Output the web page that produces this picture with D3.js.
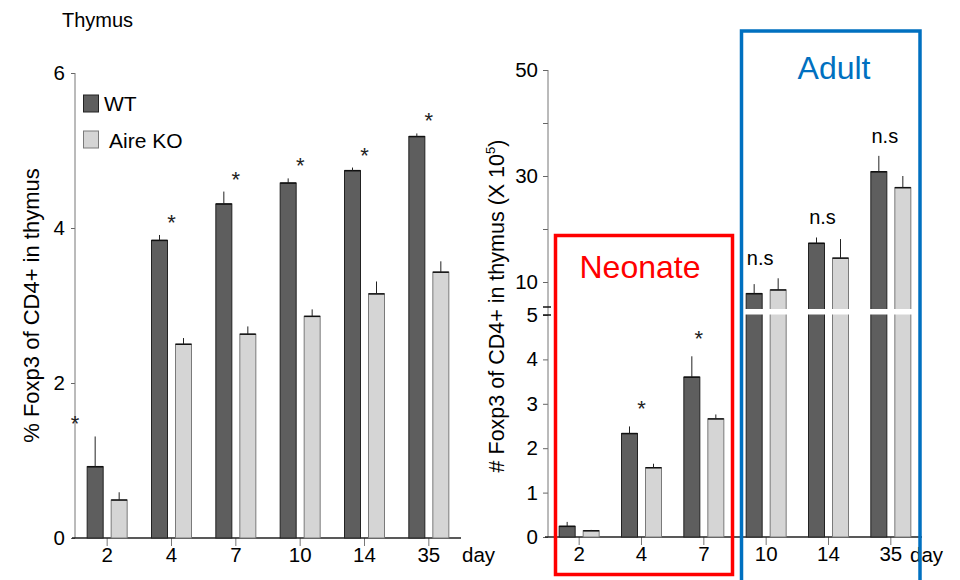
<!DOCTYPE html>
<html>
<head>
<meta charset="utf-8">
<script src="https://cdn.jsdelivr.net/npm/d3@7"></script>
<style>
  body { margin: 0; background: #fff; }
  svg { display: block; font-family: "Liberation Sans", Arial, sans-serif; }
</style>
</head>
<body>
<svg id="chart" width="960" height="580"></svg>
<script>
// Days of sampling (shared by both panels)
const days = ["2", "4", "7", "10", "14", "35"];
const series = ["WT", "Aire KO"];

// Left panel: % Foxp3 of CD4+ in thymus
const pctWT = [0.92, 3.84, 4.31, 4.58, 4.74, 5.18];
const pctWTerr = [0.39, 0.07, 0.16, 0.06, 0.04, 0.04];
const pctKO = [0.49, 2.50, 2.63, 2.86, 3.15, 3.43];
const pctKOerr = [0.10, 0.08, 0.10, 0.09, 0.16, 0.14];
const pctStars = ["*", "*", "*", "*", "*", "*"];
const pctTicks = [0, 2, 4, 6];

// Right panel: # Foxp3 of CD4+ in thymus (x 10^5), broken axis at 5
const numWT = [0.24, 2.33, 3.60, 7.8, 17.3, 30.8];
const numWTerr = [0.10, 0.16, 0.47, 1.8, 1.1, 3.0];
const numKO = [0.14, 1.56, 2.66, 8.5, 14.5, 27.8];
const numKOerr = [0.02, 0.09, 0.10, 2.2, 3.6, 2.2];
const numMarks = ["", "*", "*", "n.s", "n.s", "n.s"];
const numLowTicks = [0, 1, 2, 3, 4, 5];
const numHighTicks = [10, 20, 30, 40, 50];
const numHighLabels = [10, 30, 50];

const colWT = "#5e5e5e", colKO = "#d5d5d5";
const tickFont = 20.5;
const svg = d3.select("#chart");

// ---------- Left panel ----------
const L = { x0: 75, x1: 461, y0: 538, y1: 73 };
const xL = d3.scaleBand().domain(days).range([L.x0, L.x1]);
const yL = d3.scaleLinear().domain([0, 6]).range([L.y0, L.y1]);

svg.append("text").attr("x", 62).attr("y", 27).attr("font-size", 20).text("Thymus");

// y axis
const gyL = svg.append("g").attr("transform", `translate(${L.x0},0)`)
  .call(d3.axisLeft(yL).tickValues(pctTicks).tickSize(4).tickPadding(6).tickFormat(d3.format("d")));
gyL.select(".domain").remove();
gyL.selectAll(".tick line").attr("stroke", "#666");
gyL.selectAll("text").attr("font-size", tickFont).attr("fill", "#000").attr("font-family", "Liberation Sans, Arial");
svg.append("line").attr("x1", L.x0).attr("x2", L.x0).attr("y1", L.y1).attr("y2", L.y0).attr("stroke", "#777");

// x axis
const gxL = svg.append("g").attr("transform", `translate(0,${L.y0})`)
  .call(d3.axisBottom(xL).tickSize(8).tickPadding(1));
gxL.select(".domain").remove();
gxL.selectAll(".tick line").attr("stroke", "#777");
gxL.selectAll("text").attr("font-size", tickFont).attr("fill", "#000").attr("font-family", "Liberation Sans, Arial");
svg.append("line").attr("x1", L.x0 - 3).attr("x2", L.x1).attr("y1", L.y0).attr("y2", L.y0).attr("stroke", "#222").attr("stroke-width", 1.5);
svg.append("text").attr("x", 462).attr("y", 562).attr("font-size", tickFont).text("day");

svg.append("text")
  .attr("transform", `translate(39,${(L.y0 + L.y1) / 2}) rotate(-90)`)
  .attr("text-anchor", "middle").attr("font-size", 22).text("% Foxp3 of CD4+ in thymus");

function drawBars(g, x, y, vals, errs, offset, fill, stroke) {
  const w = 16;
  days.forEach((d, i) => {
    const cx = x(d) + x.bandwidth() / 2 + offset;
    const top = y(vals[i]), base = y(0);
    g.append("rect").attr("x", cx - w / 2).attr("y", top).attr("width", w).attr("height", base - top)
      .attr("fill", fill).attr("stroke", stroke).attr("stroke-width", 1);
    g.append("line").attr("x1", cx - w / 2).attr("x2", cx + w / 2).attr("y1", top).attr("y2", top)
      .attr("stroke", "#111").attr("stroke-width", 1.5);
    g.append("line").attr("x1", cx).attr("x2", cx).attr("y1", top).attr("y2", y(vals[i] + errs[i]))
      .attr("stroke", "#222").attr("stroke-width", 1);
  });
}

const barsL = svg.append("g");
drawBars(barsL, xL, yL, pctWT, pctWTerr, -12, colWT, "#222");
drawBars(barsL, xL, yL, pctKO, pctKOerr, 12, colKO, "#7a7a7a");

// significance stars
days.forEach((d, i) => {
  const cx = i === 0 ? L.x0 : xL(d) + xL.bandwidth() / 2;
  const cy = yL(pctWT[i] + pctWTerr[i]) - 17;
  svg.append("text").attr("x", cx).attr("y", cy + 12).attr("text-anchor", "middle")
    .attr("font-size", 22).attr("fill", "#222").text(pctStars[i]);
});

// legend
const leg = svg.append("g");
[[colWT, "#222", 95, 104, 111], [colKO, "#7a7a7a", 131, 109, 148]].forEach((r, i) => {
  leg.append("rect").attr("x", 83.5).attr("y", r[2]).attr("width", 15).attr("height", 17)
    .attr("fill", r[0]).attr("stroke", r[1]);
  leg.append("text").attr("x", r[3]).attr("y", r[4]).attr("font-size", 21).text(series[i]);
});

// ---------- Right panel ----------
const R = { x0: 548, x1: 922, y0: 537 };
const xR = d3.scaleBand().domain(days).range([R.x0, R.x1]);
const yLow = d3.scaleLinear().domain([0, 5]).range([R.y0, 315]);
const yHigh = d3.scaleLinear().domain([5, 50]).range([308.5, 70]);
const yR = v => (v <= 5 ? yLow(v) : yHigh(v));
const gapTop = 309, gapBot = 314.5;

const gLow = svg.append("g").attr("transform", `translate(${R.x0},0)`)
  .call(d3.axisLeft(yLow).tickValues(numLowTicks).tickSize(5).tickPadding(5).tickFormat(d3.format("d")));
const gHigh = svg.append("g").attr("transform", `translate(${R.x0},0)`)
  .call(d3.axisLeft(yHigh).tickValues(numHighTicks).tickSize(5).tickPadding(5)
    .tickFormat(d => numHighLabels.includes(d) ? d : ""));
[gLow, gHigh].forEach(g => {
  g.select(".domain").remove();
  g.selectAll(".tick line").attr("stroke", "#666");
  g.selectAll("text").attr("font-size", tickFont).attr("fill", "#000").attr("font-family", "Liberation Sans, Arial");
});
svg.append("line").attr("x1", R.x0).attr("x2", R.x0).attr("y1", 70).attr("y2", R.y0).attr("stroke", "#777");
// axis break marks
[307, 315].forEach(yy => svg.append("line").attr("x1", R.x0 - 5).attr("x2", R.x0 + 3)
  .attr("y1", yy).attr("y2", yy).attr("stroke", "#111").attr("stroke-width", 1.5));

const gxR = svg.append("g").attr("transform", `translate(0,${R.y0})`)
  .call(d3.axisBottom(xR).tickSize(8).tickPadding(1));
gxR.select(".domain").remove();
gxR.selectAll(".tick line").attr("stroke", "#777");
gxR.selectAll("text").attr("font-size", tickFont).attr("fill", "#000").attr("font-family", "Liberation Sans, Arial");
svg.append("line").attr("x1", R.x0 - 3).attr("x2", R.x1).attr("y1", R.y0).attr("y2", R.y0).attr("stroke", "#222").attr("stroke-width", 1.5);
svg.append("text").attr("x", 910).attr("y", 562).attr("font-size", tickFont).text("day");

const yTitle = svg.append("text")
  .attr("transform", `translate(504,306) rotate(-90)`)
  .attr("text-anchor", "middle").attr("font-size", 21.5);
yTitle.append("tspan").text("# Foxp3 of CD4+ in thymus (X 10");
yTitle.append("tspan").attr("font-size", 13).attr("dy", -9).text("5");
yTitle.append("tspan").attr("dy", 9).text(")");

const barsR = svg.append("g");
drawBars(barsR, xR, yR, numWT, numWTerr, -12, colWT, "#222");
drawBars(barsR, xR, yR, numKO, numKOerr, 12, colKO, "#7a7a7a");
// white gap across bars taller than the break
days.forEach((d, i) => {
  [[numWT[i], -12], [numKO[i], 12]].forEach(([v, off]) => {
    if (v > 5) {
      const cx = xR(d) + xR.bandwidth() / 2 + off;
      barsR.append("rect").attr("x", cx - 9.5).attr("y", gapTop).attr("width", 19).attr("height", gapBot - gapTop)
        .attr("fill", "#fff");
    }
  });
});

// significance marks
days.forEach((d, i) => {
  if (!numMarks[i]) return;
  const top = Math.min(yR(numWT[i] + numWTerr[i]), yR(numKO[i] + numKOerr[i]));
  const cx = xR(d) + xR.bandwidth() / 2;
  if (numMarks[i] === "*") {
    svg.append("text").attr("x", cx - (i === 2 ? 5 : 0)).attr("y", yR(numWT[i] + numWTerr[i]) - 22 + 12)
      .attr("text-anchor", "middle").attr("font-size", 22).attr("fill", "#222").text("*");
  } else {
    svg.append("text").attr("x", cx - 6).attr("y", top - 13)
      .attr("text-anchor", "middle").attr("font-size", 20).text(numMarks[i]);
  }
});

// Neonate / Adult frames
svg.append("rect").attr("x", 555.5).attr("y", 235.5).attr("width", 177).attr("height", 339)
  .attr("fill", "none").attr("stroke", "#ff0000").attr("stroke-width", 3.5);
svg.append("text").attr("x", 640).attr("y", 278).attr("text-anchor", "middle")
  .attr("font-size", 32).attr("fill", "#ff0000").text("Neonate");
svg.append("rect").attr("x", 741.5).attr("y", 31).attr("width", 178.5).attr("height", 580)
  .attr("fill", "none").attr("stroke", "#0070c0").attr("stroke-width", 3.5);
svg.append("text").attr("x", 834).attr("y", 79).attr("text-anchor", "middle")
  .attr("font-size", 32).attr("fill", "#0070c0").text("Adult");
</script>
</body>
</html>
